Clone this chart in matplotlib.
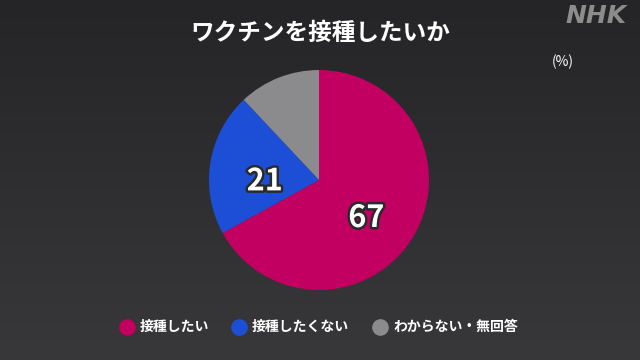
import numpy as np
import matplotlib.pyplot as plt
import matplotlib.patheffects as pe
import matplotlib.transforms as mtransforms
from matplotlib.colors import LinearSegmentedColormap

plt.rcParams['font.family'] = ['Noto Sans CJK JP', 'DejaVu Sans']

title = "ワクチンを接種したいか"
categories = ["接種したい", "接種したくない", "わからない・無回答"]
values = [67, 21, 12]
colors = ["#c10062", "#1d4fd6", "#8b8a8d"]

fig = plt.figure(figsize=(6.4, 3.6), dpi=100)

# background gradient
bg = fig.add_axes([0, 0, 1, 1])
bg.set_axis_off()
grad = np.linspace(0, 1, 256).reshape(-1, 1)
cmap = LinearSegmentedColormap.from_list("bg", ["#252527", "#38383b"])
bg.imshow(grad, aspect="auto", cmap=cmap, extent=[0, 1, 0, 1], origin="upper")
bg.set_xlim(0, 1)
bg.set_ylim(0, 1)

# pie
ax = fig.add_axes([209 / 640, 70 / 360, 220 / 640, 220 / 360])
wedges, texts, autotexts = ax.pie(
    values, colors=colors, startangle=90, counterclock=False,
    autopct=lambda p: f"{round(p)}" if p > 15 else "", pctdistance=0.5,
    wedgeprops=dict(linewidth=0),
    textprops=dict(color="white", fontsize=22, fontweight="bold"))
for t in autotexts:
    t.set_path_effects([pe.withStroke(linewidth=3.5, foreground="#2a2a2a")])
    # CJK font sits high, nudge down
    t.set_transform(mtransforms.offset_copy(t.get_transform(), fig=fig, y=-10, units="dots"))
ax.set_xlim(-1, 1)
ax.set_ylim(-1, 1)
ax.set_aspect("equal")

# texts
fig.text(0.5, 1 - 33 / 360, title, ha="center", va="center", color="white",
         fontsize=17, fontweight="bold")
fig.text(563 / 640, 1 - 62 / 360, "(%)", ha="center", va="center", color="white", fontsize=10)
fig.text(596 / 640, 1 - 16 / 360, "NHK", ha="center", va="center", color="#8c8c8c",
         fontsize=18, fontweight="bold", style="italic", family=["DejaVu Sans"])

# legend
xs = [127, 239, 380]
for x, c, lab in zip(xs, colors, categories):
    bg.scatter([x / 640], [1 - 327 / 360], s=120, color=c, zorder=3)
    bg.text((x + 13) / 640, 1 - 327 / 360, lab, ha="left", va="center", color="white",
            fontsize=10, fontweight="bold")

fig.savefig("out.png", dpi=100)
